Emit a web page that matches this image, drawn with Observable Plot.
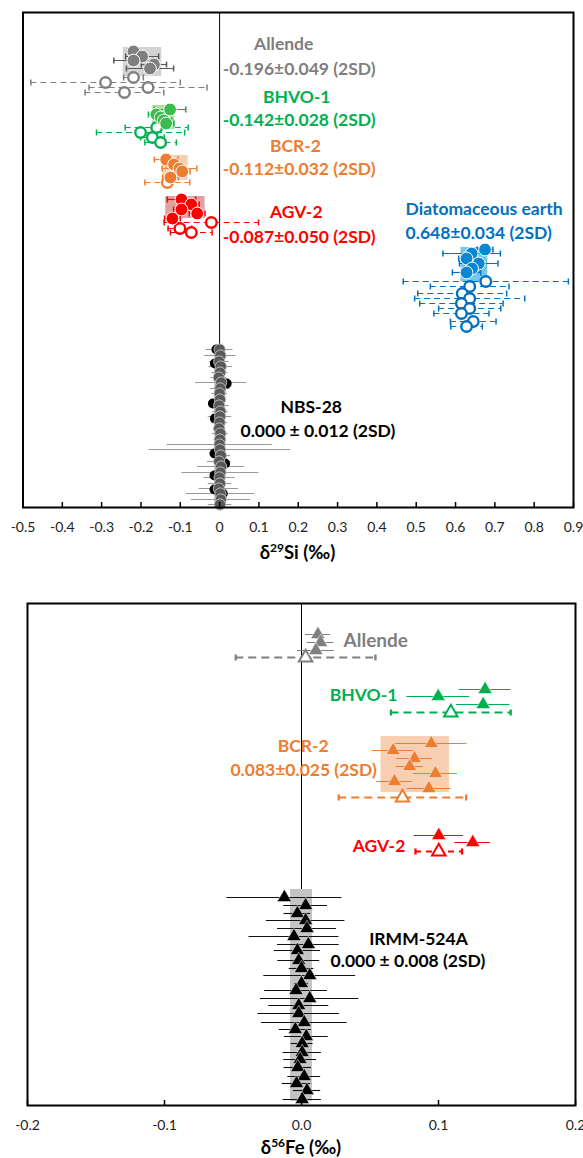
<!DOCTYPE html>
<html><head><meta charset="utf-8">
<script src="https://cdn.jsdelivr.net/npm/d3@7"></script>
<script src="https://cdn.jsdelivr.net/npm/@observablehq/plot@0.6"></script>
<style>
body{margin:0;background:#fff;font-family:Lato,"Open Sans",sans-serif;}
#wrap{width:583px;}
.xlab{font-weight:bold;font-size:18.5px;color:#000;text-align:center;}
.xlab sup{font-size:12px;vertical-align:7px;line-height:0;}
svg{display:block;}
</style></head><body><div id="wrap"></div>
<script>
// ---------- Top panel: d29Si (‰), each entry [value, 2SD, row position from top] ----------
const siTicks = [-0.5,-0.4,-0.3,-0.2,-0.1,0,0.1,0.2,0.3,0.4,0.5,0.6,0.7,0.8,0.9];
const siAllendeFilled = [[-0.219,0.015,39],[-0.197,0.042,44],[-0.219,0.050,48],[-0.167,0.032,52],[-0.177,0.060,56]];
const siAllendeOpen = [[-0.219,0.025,65],[-0.290,0.190,70],[-0.182,0.150,75],[-0.242,0.100,80]];
const siBhvoFilled = [[-0.126,0.040,97],[-0.161,0.020,102],[-0.150,0.015,105],[-0.142,0.020,108],[-0.136,0.020,111]];
const siBhvoOpen = [[-0.160,0.080,115],[-0.201,0.112,120],[-0.171,0.030,125],[-0.150,0.040,130]];
const siBcrFilled = [[-0.136,0.030,147],[-0.116,0.020,152],[-0.102,0.044,156],[-0.095,0.020,159],[-0.125,0.020,165]];
const siBcrOpen = [[-0.133,0.057,170]];
const siAgvFilled = [[-0.097,0.036,187],[-0.072,0.020,192],[-0.097,0.020,197],[-0.057,0.020,201],[-0.120,0.020,206]];
const siAgvOpen = [[-0.021,0.120,210],[-0.101,0.030,216],[-0.072,0.053,220]];
const siDiatFilled = [[0.675,0.020,237],[0.641,0.073,241],[0.628,0.020,246],[0.659,0.049,251],[0.642,0.020,256],[0.628,0.036,260]];
const siDiatOpen = [[0.677,0.210,269],[0.636,0.100,274],[0.617,0.113,281],[0.636,0.140,286],[0.615,0.106,291],[0.636,0.079,296],[0.615,0.070,301],[0.645,0.058,309],[0.628,0.040,314]];
const siNbsPos = [337,343,349,354,360,365,370,376,381,387,393,399,404,410,416,421,427,432,437,443,449,454,460,465,471,476,481,487,492];
const siNbsVal = [0.000,0.002,-0.001,0.003,0.001,-0.002,0.004,0.002,0.000,0.001,-0.001,0.002,0.001,0.000,-0.001,0.002,0.001,0.000,0.001,0.003,-0.001,0.004,0.002,0.000,0.001,-0.002,0.002,0.003,0.001];
const siNbsErr = [0.034,0.040,0.025,0.030,0.020,0.020,0.065,0.025,0.020,0.015,0.025,0.020,0.030,0.020,0.015,0.020,0.015,0.134,0.180,0.025,0.030,0.060,0.098,0.040,0.030,0.050,0.087,0.075,0.030];
const siNbsOther = [[-0.008,337],[-0.012,351],[0.018,371],[-0.017,391],[-0.012,406],[-0.013,441],[0.014,451],[-0.013,463],[-0.013,477],[0.008,481]];
// [name, mean, 2SD, row top, row bottom]
const siBoxes = [["Allende",-0.196,0.049,35,64],["BHVO-1",-0.142,0.028,93,117],["BCR-2",-0.112,0.032,143,168],["AGV-2",-0.087,0.050,184,206],["Diatomaceous earth",0.648,0.034,235,269],["NBS-28",0,0.012,333,493]];
// [text, x, row]
const siLabelsMid = [["Allende",0.163,32],["BHVO-1",0.196,85],["BCR-2",0.193,134],["AGV-2",0.195,200],["NBS-28",0.233,395],["0.000 ± 0.012 (2SD)",0.250,419]];
const siLabelsStart = [["-0.196±0.049 (2SD)",0.008,57],["-0.142±0.028 (2SD)",0.008,108],["-0.112±0.032 (2SD)",0.008,157],["-0.087±0.050 (2SD)",0.008,225],["Diatomaceous earth",0.473,197],["0.648±0.034 (2SD)",0.473,221]];

// ---------- Bottom panel: d56Fe (‰) ----------
const feTicks = [-0.2,-0.1,0,0.1,0.2];
const feAllendeFilled = [[0.0120,0.0090,31],[0.0139,0.0097,39],[0.0105,0.0134,47]];
const feAllendeOpen = [[0.003,0.051,54]];
const feBhvoFilled = [[0.134,0.019,86],[0.0998,0.023,93],[0.1326,0.0195,101]];
const feBhvoOpen = [[0.109,0.0437,109]];
const feBcrFilled = [[0.0947,0.026,140],[0.0669,0.015,147],[0.0825,0.013,155],[0.079,0.010,163],[0.0978,0.016,170],[0.0679,0.013,178],[0.093,0.016,185]];
const feBcrOpen = [[0.0737,0.0465,194]];
const feAgvFilled = [[0.1002,0.018,232],[0.125,0.013,239]];
const feAgvOpen = [[0.1002,0.017,248]];
const feIrmm = [[-0.0125,0.042,294],[0.003,0.016,302],[-0.003,0.0097,310],[0.003,0.0287,317],[0.004,0.0215,325],[-0.0055,0.0328,333],[0.005,0.0225,341],[-0.003,0.0168,347],[-0.002,0.0153,357],[0.000,0.009,365],[0.006,0.0335,372],[0.000,0.005,380],[-0.004,0.0229,387],[0.006,0.0359,395],[-0.002,0.0219,402],[-0.002,0.0298,410],[0.002,0.0313,419],[-0.0045,0.0117,426],[0.0035,0.016,433],[0.0005,0.008,440],[0.0005,0.014,449],[-0.001,0.012,456],[-0.0027,0.010,464],[0.002,0.012,473],[-0.0036,0.0105,480],[0.004,0.010,487],[0.0005,0.014,496]];
const feBoxes = [["BCR-2",0.083,0.025,133,189],["IRMM-524A",0,0.008,286,498]];
const feLabelsMid = [["BHVO-1",0.0453,92],["BCR-2",0.0012,143],["0.083±0.025 (2SD)",0.0015,167],["AGV-2",0.0566,243],["IRMM-524A",0.0854,336],["0.000 ± 0.008 (2SD)",0.0777,358]];
const feLabelsStart = [["Allende",0.0307,37]];

// ---------- styles ----------
const GRAY = "#7f7f7f", GREEN = "#00b050", LGREEN = "#3cbc4c", ORANGE = "#ed7d31", RED = "#ff0000", BLUE = "#0070c0", LBLUE = "#0a86d2";
const siColors = {"Allende": GRAY, "BHVO-1": GREEN, "BCR-2": ORANGE, "AGV-2": RED, "Diatomaceous earth": BLUE, "NBS-28": "#000", "0.000 ± 0.012 (2SD)": "#000"};
const boxFill = {"Allende": "#d4d4d4", "BHVO-1": "#b3df98", "BCR-2": "#f8cfb2", "AGV-2": "#e2a0a0", "Diatomaceous earth": "#72c6f2", "NBS-28": "#a6a6a6", "IRMM-524A": "#c4c4c4"};

const capSym = {draw(ctx, size){ const h = Math.sqrt(size/Math.PI); ctx.moveTo(0,-h); ctx.lineTo(0,h); }};
function bars(data, color, dashed, caps, sw = 1.2, dash = "6,4") {
  const m = [Plot.ruleY(data, {y: d => d[2], x1: d => d[0]-d[1], x2: d => d[0]+d[1], stroke: color, strokeWidth: sw, strokeDasharray: dashed ? dash : null})];
  if (caps) m.push(Plot.dot(data.flatMap(d => [[d[0]-d[1], d[2]], [d[0]+d[1], d[2]]]), {x: d => d[0], y: d => d[1], r: 3, symbol: capSym, stroke: color, fill: "none", strokeWidth: sw + 0.3}));
  return m;
}
function circlesFilled(data, color) { return Plot.dot(data, {x: d => d[0], y: d => d[2], r: 6.4, fill: color, stroke: "white", strokeWidth: 1}); }
function circlesOpen(data, color) { return Plot.dot(data, {x: d => d[0], y: d => d[2], r: 5.3, fill: "white", stroke: color, strokeWidth: 2.4}); }
function triFilled(data, color) { return Plot.dot(data, {x: d => d[0], y: d => d[2], r: 5.3, symbol: "triangle", fill: color, stroke: "white", strokeWidth: 0.5}); }
function triOpen(data, color) { return Plot.dot(data, {x: d => d[0], y: d => d[2], r: 5, symbol: "triangle", fill: "white", stroke: color, strokeWidth: 2}); }
const fmtSi = d => d === 0 ? "0" : d.toFixed(1);
const fmtFe = d => d.toFixed(1);

const wrap = document.getElementById("wrap");

// ---------- top plot ----------
const topH = 540, topMT = 12, topMB = 33;
const topInner = topH - topMT - topMB;
const nbs = siNbsPos.map((p, i) => [siNbsVal[i], siNbsErr[i], p]);
const topPlot = Plot.plot({
  width: 583, height: topH, marginLeft: 22.5, marginRight: 10, marginTop: topMT, marginBottom: topMB,
  style: {fontFamily: "Lato, 'Open Sans', sans-serif", fontSize: "14px", color: "#000", background: "#fff"},
  x: {domain: [-0.5, 0.9]},
  y: {domain: [topInner, 0], axis: null},
  marks: [
    Plot.ruleX([0], {stroke: "#000", strokeWidth: 1}),
    Plot.rect(siBoxes, {x1: d => d[1]-d[2], x2: d => d[1]+d[2], y1: d => d[3], y2: d => d[4], fill: d => boxFill[d[0]]}),
    // NBS-28
    ...bars(nbs, "#9a9a9a", false, false, 1.1),
    Plot.dot(siNbsOther, {x: d => d[0], y: d => d[1], r: 5, fill: "#000"}),
    Plot.dot(nbs, {x: d => d[0], y: d => d[2], r: 5.6, fill: "#595959", stroke: "#bdbdbd", strokeWidth: 1}),
    // Allende
    ...bars(siAllendeOpen, GRAY, true, true),
    ...bars(siAllendeFilled, "#595959", false, true),
    circlesOpen(siAllendeOpen, GRAY),
    circlesFilled(siAllendeFilled, GRAY),
    // BHVO-1
    ...bars(siBhvoOpen, GREEN, true, true),
    ...bars(siBhvoFilled, GREEN, false, true),
    circlesOpen(siBhvoOpen, GREEN),
    circlesFilled(siBhvoFilled, LGREEN),
    // BCR-2
    ...bars(siBcrOpen, ORANGE, true, true),
    ...bars(siBcrFilled, ORANGE, false, true),
    circlesOpen(siBcrOpen, ORANGE),
    circlesFilled(siBcrFilled, ORANGE),
    // AGV-2
    ...bars(siAgvOpen, RED, true, true),
    ...bars(siAgvFilled, RED, false, true),
    circlesOpen(siAgvOpen, RED),
    circlesFilled(siAgvFilled, RED),
    // Diatomaceous earth
    ...bars(siDiatOpen, BLUE, true, true),
    ...bars(siDiatFilled, BLUE, false, true),
    circlesOpen(siDiatOpen, BLUE),
    circlesFilled(siDiatFilled, LBLUE),
    // labels
    Plot.text(siLabelsMid, {x: d => d[1], y: d => d[2], text: d => d[0], fill: d => siColors[d[0]] ?? "#000", fontWeight: "bold", fontSize: 17.5, textAnchor: "middle"}),
    Plot.text(siLabelsStart, {x: d => d[1], y: d => d[2], text: d => d[0], fill: d => d[0].startsWith("-0.196") ? GRAY : d[0].startsWith("-0.142") ? GREEN : d[0].startsWith("-0.112") ? ORANGE : d[0].startsWith("-0.087") ? RED : BLUE, fontWeight: "bold", fontSize: 17.5, textAnchor: "start"}),
    // axis
    Plot.tickX(siTicks, {x: d => d, insetTop: topInner - 5, stroke: "#000", strokeWidth: 1.5}),
    Plot.axisX(siTicks, {tickSize: 0, tickPadding: 15, tickFormat: fmtSi, fontSize: 14, fill: "#222", label: null}),
    Plot.frame({stroke: "#000", strokeWidth: 2})
  ]
});
wrap.appendChild(topPlot);
const lab1 = document.createElement("div");
lab1.className = "xlab";
lab1.style.cssText = "height:24px;line-height:24px;padding-left:22px;width:551px;";
lab1.innerHTML = "δ<sup>29</sup>Si (‰)";
wrap.appendChild(lab1);

// ---------- bottom plot ----------
const botH = 573, botMT = 39, botMB = 32;
const botInner = botH - botMT - botMB;
const feColors = {"Allende": GRAY, "BHVO-1": GREEN, "BCR-2": ORANGE, "0.083±0.025 (2SD)": ORANGE, "AGV-2": RED, "IRMM-524A": "#000", "0.000 ± 0.008 (2SD)": "#000"};
const botPlot = Plot.plot({
  width: 583, height: botH, marginLeft: 27, marginRight: 8, marginTop: botMT, marginBottom: botMB,
  style: {fontFamily: "Lato, 'Open Sans', sans-serif", fontSize: "14px", color: "#000", background: "#fff", overflow: "visible"},
  x: {domain: [-0.2, 0.2]},
  y: {domain: [botInner, 0], axis: null},
  marks: [
    Plot.ruleX([0], {stroke: "#000", strokeWidth: 1}),
    Plot.rect(feBoxes, {x1: d => d[1]-d[2], x2: d => d[1]+d[2], y1: d => d[3], y2: d => d[4], fill: d => boxFill[d[0]]}),
    // IRMM-524A
    ...bars(feIrmm, "#111", false, false, 1.1),
    triFilled(feIrmm, "#000"),
    // Allende
    ...bars(feAllendeOpen, GRAY, true, true, 2, "8,5"),
    ...bars(feAllendeFilled, GRAY, false, false, 1),
    triOpen(feAllendeOpen, GRAY),
    triFilled(feAllendeFilled, GRAY),
    // BHVO-1
    ...bars(feBhvoOpen, GREEN, true, true, 2, "8,5"),
    ...bars(feBhvoFilled, GREEN, false, false, 1),
    triOpen(feBhvoOpen, GREEN),
    triFilled(feBhvoFilled, GREEN),
    // BCR-2
    ...bars(feBcrOpen, ORANGE, true, true, 2, "8,5"),
    ...bars(feBcrFilled, ORANGE, false, false, 1),
    triOpen(feBcrOpen, ORANGE),
    triFilled(feBcrFilled, ORANGE),
    // AGV-2
    ...bars(feAgvOpen, RED, true, true, 2, "6,5"),
    ...bars(feAgvFilled, RED, false, false, 1),
    triOpen(feAgvOpen, RED),
    triFilled(feAgvFilled, RED),
    // labels
    Plot.text(feLabelsMid, {x: d => d[1], y: d => d[2], text: d => d[0], fill: d => feColors[d[0]], fontWeight: "bold", fontSize: 17.5, textAnchor: "middle"}),
    Plot.text(feLabelsStart, {x: d => d[1], y: d => d[2], text: d => d[0], fill: GRAY, fontWeight: "bold", fontSize: 19, textAnchor: "start"}),
    // axis
    Plot.tickX(feTicks, {x: d => d, insetTop: botInner - 5, stroke: "#000", strokeWidth: 1.5}),
    Plot.axisX(feTicks, {tickSize: 0, tickPadding: 15, tickFormat: fmtFe, fontSize: 14, fill: "#222", label: null}),
    Plot.frame({stroke: "#000", strokeWidth: 2})
  ]
});
wrap.appendChild(botPlot);
const lab2 = document.createElement("div");
lab2.className = "xlab";
lab2.style.cssText = "height:21px;line-height:21px;padding-left:27px;width:548px;";
lab2.innerHTML = "δ<sup>56</sup>Fe (‰)";
wrap.appendChild(lab2);
</script>
</body></html>
